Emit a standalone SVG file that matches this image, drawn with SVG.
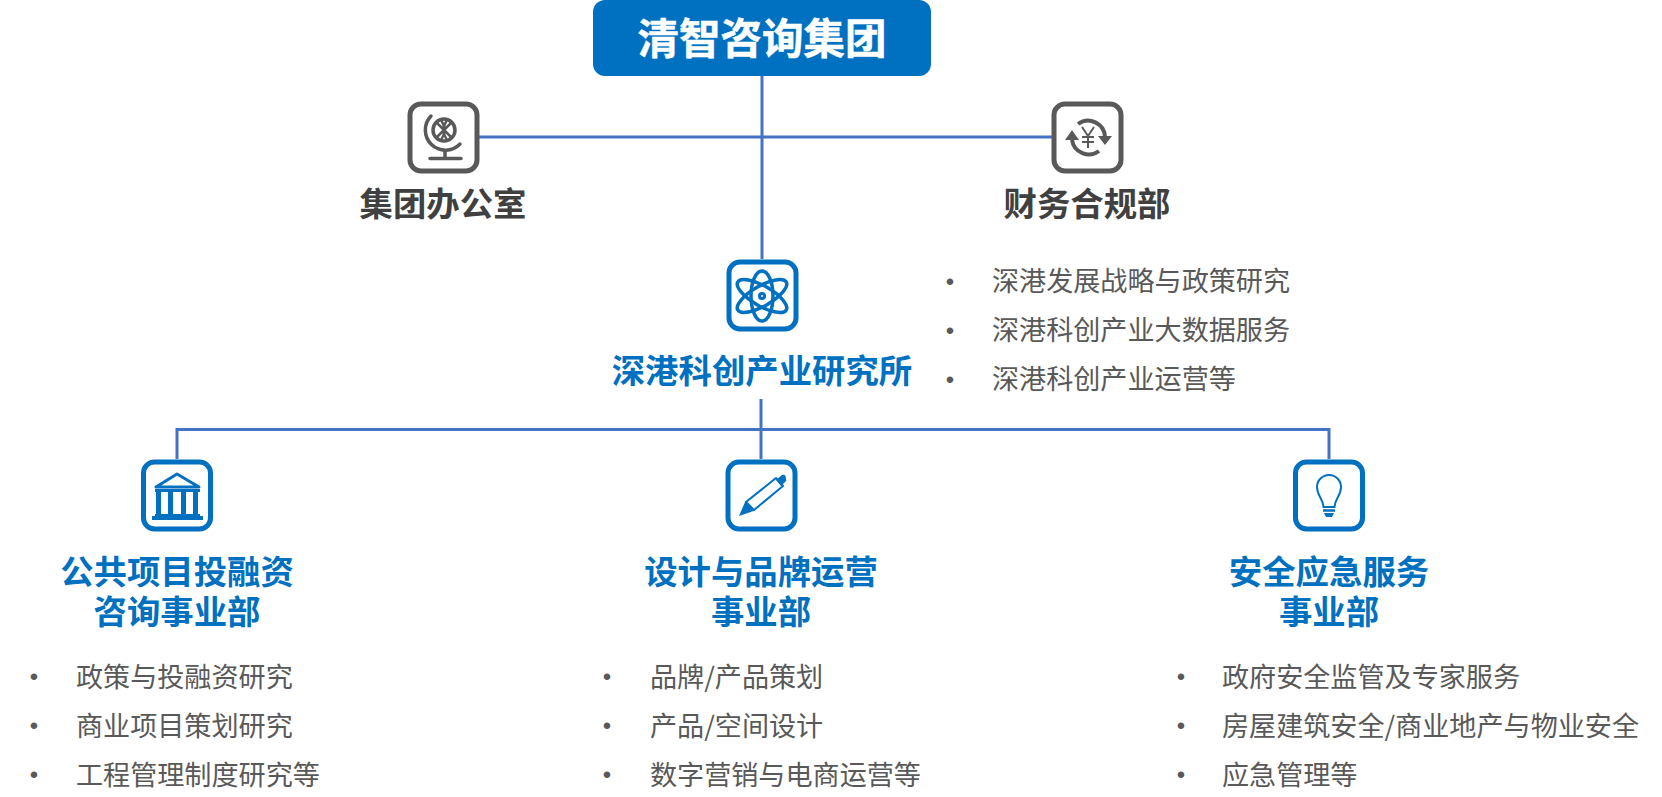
<svg xmlns="http://www.w3.org/2000/svg" width="1662" height="797" viewBox="0 0 1662 797">
<style>
text{font-family:"Noto Sans CJK SC","Noto Sans",sans-serif}
.t{font-size:33.4px;font-weight:700;text-anchor:middle}
.b{fill:#0070C0}
.g{fill:#404040}
.l{font-size:27.1px;fill:#595959}
.d{font-family:"Liberation Sans",sans-serif;font-size:24px;fill:#595959;text-anchor:middle}
.box{stroke-width:5;fill:#fff}
.gs{stroke:#595959;fill:none}
.bs{stroke:#0070C0;fill:none}
.cn{fill:none;stroke:#4472C4;stroke-width:3}
</style>
<g id="connectors" class="cn">
<path d="M762 76V259"/>
<path d="M479 137H1053"/>
<path d="M761 399V429.500"/>
<path d="M177 459V429.500H1329V459"/>
<path d="M761 429.500V459"/>
</g>
<g id="root">
<rect x="593" y="0" width="338" height="76" rx="12" fill="#0070C0"/>
<text x="762" y="54" font-size="41.500" font-weight="700" fill="#fff" stroke="#fff" stroke-width=".5" text-anchor="middle">清智咨询集团</text>
</g>
<g id="office">
<rect class="box gs" x="410" y="104" width="67" height="67" rx="11" style="fill:#fff"/>
<g class="gs">
<circle cx="444" cy="130" r="11" stroke-width="3.500"/>
<path d="M436.500 122.500L451.500 137.500M451.500 122.500L436.500 137.500M441 120Q448 130 441 140M447 120Q440 130 447 140" stroke-width="2.500"/>
<path d="M431 116A20 20 0 0 0 460 144" stroke-width="3.500" stroke-linecap="round"/>
<path d="M445 151V158M430 158.500H461" stroke-width="3.500" stroke-linecap="round"/>
</g>
<text class="t g" x="443" y="216">集团办公室</text>
</g>
<g id="finance">
<rect class="box gs" x="1054" y="104" width="67" height="67" rx="11" style="fill:#fff"/>
<g class="gs" stroke-width="4">
<path d="M1072 140A17 17 0 0 0 1099 151"/>
<path d="M1105 137A17 17 0 0 0 1078 124"/>
</g>
<path d="M1065 140L1072 130L1079 140ZM1098 136L1105 145L1112 136Z" fill="#595959"/>
<path d="M1082 127L1088 136L1094 127M1088 136V148M1082 137H1094M1082 142H1094" fill="none" stroke="#595959" stroke-width="2"/>
<text class="t g" x="1087" y="216">财务合规部</text>
</g>
<g id="institute">
<rect class="box bs" x="729" y="262" width="67" height="67" rx="11" style="fill:#fff"/>
<g class="bs" stroke-width="3.500">
<ellipse cx="762" cy="296" rx="11" ry="25"/>
<ellipse cx="762" cy="296" rx="10" ry="28" transform="rotate(60 762 296)"/>
<ellipse cx="762" cy="296" rx="10" ry="28" transform="rotate(-60 762 296)"/>
<circle cx="762" cy="296" r="2.500" stroke-width="3"/>
</g>
<text class="t b" x="762" y="383">深港科创产业研究所</text>
<g>
<text class="d" x="950" y="290">•</text><text class="l" x="992" y="291">深港发展战略与政策研究</text>
<text class="d" x="950" y="339">•</text><text class="l" x="992" y="340">深港科创产业大数据服务</text>
<text class="d" x="950" y="388">•</text><text class="l" x="992" y="389">深港科创产业运营等</text>
</g>
</g>
<g id="investment">
<rect class="box bs" x="143.500" y="462" width="67" height="67" rx="11" style="fill:#fff"/>
<path d="M156 487L177 474L199 487Z" fill="none" stroke="#0070C0" stroke-width="3" stroke-linejoin="round"/>
<path d="M155 489H200v3H155ZM156 492h5v22h-5ZM168 492h5v22h-5ZM181 492h5v22h-5ZM193 492h5v22h-5ZM155 514H200v2H155ZM152 516H203v4H152Z" fill="#0070C0"/>
<text class="t b" x="177" y="584">公共项目投融资<tspan x="177" y="624">咨询事业部</tspan></text>
<g>
<text class="d" x="34" y="685">•</text><text class="l" x="76" y="687">政策与投融资研究</text>
<text class="d" x="34" y="734">•</text><text class="l" x="76" y="736">商业项目策划研究</text>
<text class="d" x="34" y="783">•</text><text class="l" x="76" y="785">工程管理制度研究等</text>
</g>
</g>
<g id="design">
<rect class="box bs" x="728" y="462" width="67" height="67" rx="11" style="fill:#fff"/>
<path d="M746 502L776 478L783 486L754 510Z" fill="none" stroke="#0070C0" stroke-width="2" stroke-linejoin="round"/>
<path d="M739 516L745.500 501L755 510.500Z" fill="#0070C0"/>
<path d="M776 480L782 475Q784 474 785.500 476L786 479Q787 481 785 482L781 486Z" fill="#0070C0"/>
<text class="t b" x="761" y="584">设计与品牌运营<tspan x="761" y="624">事业部</tspan></text>
<g>
<text class="d" x="607" y="685">•</text><text class="l" x="650" y="687">品牌/产品策划</text>
<text class="d" x="607" y="734">•</text><text class="l" x="650" y="736">产品/空间设计</text>
<text class="d" x="607" y="783">•</text><text class="l" x="650" y="785">数字营销与电商运营等</text>
</g>
</g>
<g id="safety">
<rect class="box bs" x="1295.500" y="462" width="67" height="67" rx="11" style="fill:#fff"/>
<path d="M1323.500 507C1323 498 1317 496 1317 487A12 12 0 0 1 1341 487C1341 496 1335 498 1334.500 507Z" fill="none" stroke="#0070C0" stroke-width="2"/>
<path d="M1323 510.500H1335" stroke="#0070C0" stroke-width="2.500"/>
<path d="M1324 513H1334L1332 517H1326Z" fill="#0070C0"/>
<text class="t b" x="1329" y="584">安全应急服务<tspan x="1329" y="624">事业部</tspan></text>
<g>
<text class="d" x="1181" y="685">•</text><text class="l" x="1222" y="687">政府安全监管及专家服务</text>
<text class="d" x="1181" y="734">•</text><text class="l" x="1222" y="736">房屋建筑安全/商业地产与物业安全</text>
<text class="d" x="1181" y="783">•</text><text class="l" x="1222" y="785">应急管理等</text>
</g>
</g>
</svg>
